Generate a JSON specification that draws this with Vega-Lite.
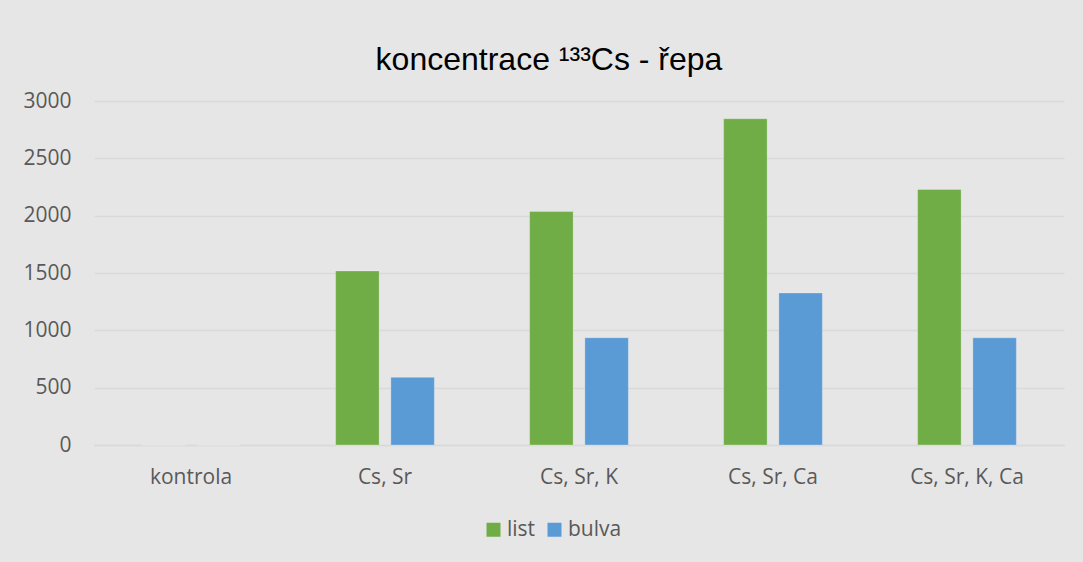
{
  "$schema": "https://vega.github.io/schema/vega-lite/v6.json",
  "autosize": {"type": "none"},
  "width": 970,
  "height": 344,
  "padding": {"left": 94, "top": 101, "right": 19, "bottom": 117},
  "background": "#e7e6e6",
  "title": {
    "text": "koncentrace ¹³³Cs - řepa",
    "font": "Liberation Sans",
    "fontSize": 32,
    "fontWeight": "normal",
    "color": "#000000",
    "anchor": "middle",
    "frame": "group",
    "baseline": "alphabetic",
    "offset": 39,
    "dy": 51,
    "dx": -30
  },
  "data": {
    "values": [
      {"kategorie": "kontrola", "serie": "list", "hodnota": 0},
      {"kategorie": "kontrola", "serie": "bulva", "hodnota": 0},
      {"kategorie": "Cs, Sr", "serie": "list", "hodnota": 1518},
      {"kategorie": "Cs, Sr", "serie": "bulva", "hodnota": 590},
      {"kategorie": "Cs, Sr, K", "serie": "list", "hodnota": 2036},
      {"kategorie": "Cs, Sr, K", "serie": "bulva", "hodnota": 936},
      {"kategorie": "Cs, Sr, Ca", "serie": "list", "hodnota": 2845},
      {"kategorie": "Cs, Sr, Ca", "serie": "bulva", "hodnota": 1326},
      {"kategorie": "Cs, Sr, K, Ca", "serie": "list", "hodnota": 2228},
      {"kategorie": "Cs, Sr, K, Ca", "serie": "bulva", "hodnota": 935}
    ]
  },
  "mark": {"type": "bar", "stroke": "#ffffff", "strokeOpacity": 0.25, "strokeWidth": 1},
  "encoding": {
    "x": {
      "field": "kategorie",
      "type": "nominal",
      "sort": ["kontrola", "Cs, Sr", "Cs, Sr, K", "Cs, Sr, Ca", "Cs, Sr, K, Ca"],
      "scale": {"paddingInner": 0.491, "paddingOuter": 0.2455},
      "axis": {
        "title": null,
        "labelAngle": 0,
        "labelFont": "Open Sans",
        "labelFontSize": 21,
        "labelColor": "#595959",
        "labelPadding": 21,
        "ticks": false,
        "domain": true,
        "domainColor": "#d9d9d9",
        "domainWidth": 1.5,
        "grid": false
      }
    },
    "xOffset": {
      "field": "serie",
      "type": "nominal",
      "sort": ["list", "bulva"],
      "scale": {"paddingInner": 0.212, "paddingOuter": 0}
    },
    "y": {
      "field": "hodnota",
      "type": "quantitative",
      "scale": {"domain": [0, 3000], "nice": false},
      "axis": {
        "title": null,
        "values": [0, 500, 1000, 1500, 2000, 2500, 3000],
        "format": "d",
        "labelFont": "Open Sans",
        "labelFontSize": 21,
        "labelColor": "#595959",
        "labelPadding": 23,
        "ticks": false,
        "domain": false,
        "grid": true,
        "gridColor": "#d9d9d9",
        "gridWidth": 1.5
      }
    },
    "color": {
      "field": "serie",
      "type": "nominal",
      "sort": ["list", "bulva"],
      "scale": {"domain": ["list", "bulva"], "range": ["#70ad47", "#5b9bd5"]},
      "legend": {
        "title": null,
        "orient": "none",
        "direction": "horizontal",
        "legendX": 389,
        "legendY": 418,
        "symbolType": "square",
        "symbolSize": 196,
        "symbolStrokeWidth": 0,
        "labelFont": "Open Sans",
        "labelFontSize": 21,
        "labelColor": "#595959",
        "labelOffset": 3,
        "columnPadding": 8
      }
    }
  },
  "config": {
    "view": {"stroke": null}
  }
}
